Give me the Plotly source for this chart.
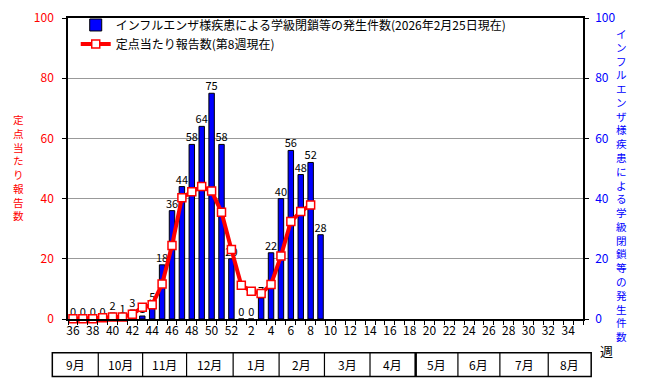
import plotly.graph_objects as go

# ---------------- data ----------------
weeks = [str(w) for w in list(range(36, 53)) + list(range(1, 36))]
school_closures = [0, 0, 0, 0, 2, 1, 3, 1, 5, 18, 36, 44, 58, 64, 75, 58, 20,
                   0, 0, 7, 22, 40, 56, 48, 52, 28]
per_sentinel = [0.1, 0.1, 0.1, 0.4, 0.7, 0.7, 1.6, 3.9, 4.7, 11.6, 24.4, 40.3,
                42.3, 44.0, 42.5, 35.5, 23.1, 11.2, 9.2, 8.5, 11.5, 20.9, 32.4,
                35.7, 37.9]
months = ["9月", "10月", "11月", "12月", "1月", "2月", "3月", "4月",
          "5月", "6月", "7月", "8月"]
bar_name = "インフルエンザ様疾患による学級閉鎖等の発生件数(2026年2月25日現在)"
line_name = "定点当たり報告数(第8週現在)"
left_title = "定点当たり報告数"
right_title = "インフルエンザ様疾患による学級閉鎖等の発生件数"
y_ticks = [0, 20, 40, 60, 80, 100]

# ---------------- layout constants ----------------
W, H = 647, 382
OFF = 8  # page body margin offset
L, R, T, B = 68 - OFF, 583.5 - OFF, 17.5 - OFF, 319.5 - OFF
FONT = "Noto Sans CJK JP"


def px(x):
    return (x - OFF - L) / (R - L)


def py(y):
    return (B - (y - OFF)) / (B - T)


idx = list(range(len(weeks)))

fig = go.Figure()
# bars on the primary axis so that the line, on the overlaying axis, is drawn on top
fig.add_trace(go.Bar(
    x=idx[:len(school_closures)], y=school_closures, yaxis="y",
    name=bar_name, width=0.55,
    marker=dict(color="#0000FF", line=dict(color="#000000", width=1)),
    text=[str(v) for v in school_closures], textposition="outside",
    constraintext="none",
    textfont=dict(size=11, color="#000000", family=FONT),
    cliponaxis=False,
))
fig.add_trace(go.Scatter(
    x=idx[:len(per_sentinel)], y=per_sentinel, yaxis="y2",
    name=line_name, mode="lines+markers",
    line=dict(color="#FF0000", width=4),
    marker=dict(symbol="square", size=8, color="#FFFFFF",
                line=dict(color="#FF0000", width=1.5)),
    cliponaxis=False,
))

shapes = []
annotations = []

# month table
bounds = [52.3, 98.3, 142.7, 186.7, 233.3, 279.3, 324.7, 370.3, 416, 458.3,
          500.3, 548.7, 591.7]
top_y, bot_y = 353.3, 377.3
shapes.append(dict(type="rect", xref="paper", yref="paper",
                   x0=px(bounds[0]), x1=px(bounds[-1]), y0=py(bot_y), y1=py(top_y),
                   line=dict(color="#000000", width=1.5)))
for i, b in enumerate(bounds[1:-1]):
    shapes.append(dict(type="line", xref="paper", yref="paper",
                       x0=px(b), x1=px(b), y0=py(bot_y), y1=py(top_y),
                       line=dict(color="#000000", width=2.5 if i == 7 else 1.2)))
for i, m in enumerate(months):
    annotations.append(dict(xref="paper", yref="paper",
                            x=px((bounds[i] + bounds[i + 1]) / 2), y=py((top_y + bot_y) / 2),
                            text=m, showarrow=False, xanchor="center", yanchor="middle",
                            font=dict(size=12, color="#000000", family=FONT)))

# "週" label
annotations.append(dict(xref="paper", yref="paper", x=px(607), y=py(351),
                        text="週", showarrow=False, xanchor="center", yanchor="middle",
                        font=dict(size=13, color="#000000", family=FONT)))

# vertical axis titles (stacked characters)
annotations.append(dict(xref="paper", yref="paper", x=px(18), y=py(110),
                        text="<br>".join(left_title), showarrow=False,
                        xanchor="center", yanchor="top", align="center",
                        font=dict(size=10.6, color="#FF0000", family=FONT)))
annotations.append(dict(xref="paper", yref="paper", x=px(622), y=py(24),
                        text="<br>".join(right_title), showarrow=False,
                        xanchor="center", yanchor="top", align="center",
                        font=dict(size=10.6, color="#0000FF", family=FONT)))

fig.update_layout(
    template="none",
    width=W, height=H,
    margin=dict(l=L, r=W - R, t=T, b=H - B, pad=0, autoexpand=False),
    paper_bgcolor="#FFFFFF", plot_bgcolor="#FFFFFF",
    font=dict(family=FONT, size=12, color="#000000"),
    showlegend=True,
    legend=dict(x=0.015, y=1.025, xanchor="left", yanchor="top",
                bgcolor="rgba(0,0,0,0)", font=dict(size=12, color="#000000", family=FONT),
                tracegroupgap=0, itemwidth=30),
    xaxis=dict(
        range=[-0.5, len(weeks) - 0.5], automargin=False,
        tickmode="array", tickvals=idx[::2], ticktext=weeks[::2],
        ticks="", showgrid=False, zeroline=False,
        showline=True, linecolor="#000000", linewidth=1.5, mirror=True,
        tickfont=dict(size=12, color="#000000", family=FONT),
        minor=dict(ticks="outside", tick0=-0.5, dtick=1, ticklen=4,
                   tickcolor="#000000", showgrid=False),
    ),
    yaxis=dict(
        range=[0, 100], tickmode="array", tickvals=y_ticks, automargin=False,
        ticks="outside", ticklen=4, tickcolor="#000000",
        showgrid=True, gridcolor="#999999", gridwidth=1,
        zeroline=False, showline=True, linecolor="#000000", linewidth=1.5,
        tickfont=dict(size=12, color="#FF0000", family=FONT),
        ticklabelstandoff=6,
    ),
    yaxis2=dict(
        range=[0, 100], tickmode="array", tickvals=y_ticks, overlaying="y", side="right",
        automargin=False,
        ticks="outside", ticklen=4, tickcolor="#000000",
        showgrid=False, zeroline=False, showline=True, linecolor="#000000", linewidth=1.5,
        tickfont=dict(size=12, color="#0000FF", family=FONT),
        ticklabelstandoff=4,
    ),
    shapes=shapes,
    annotations=annotations,
)

fig.write_html("out.html")
